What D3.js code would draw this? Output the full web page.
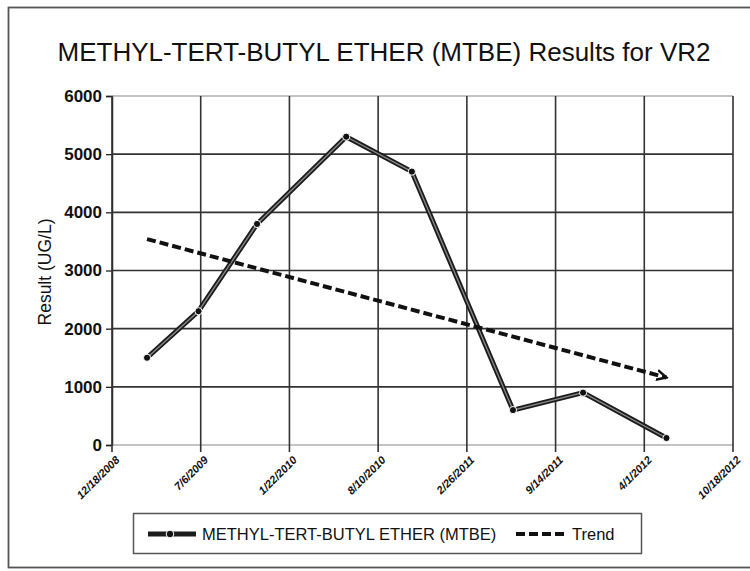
<!DOCTYPE html>
<html>
<head>
<meta charset="utf-8">
<script src="https://cdn.jsdelivr.net/npm/d3@7/dist/d3.min.js"></script>
<style>
  html, body { margin: 0; padding: 0; background: #fff; }
  svg { display: block; font-family: "Liberation Sans", Arial, sans-serif; }
</style>
</head>
<body>
<svg id="chart" width="750" height="571"></svg>
<script>
// Sampling dates and MTBE results (UG/L) for well VR2
const sampleDates = ["2009-03-07", "2009-07-01", "2009-11-10", "2010-05-30",
                     "2010-10-25", "2011-06-10", "2011-11-15", "2012-05-21"];
const mtbeValues = [1500, 2300, 3800, 5300, 4700, 600, 900, 120];

// Linear trend, first to last sample
const trendDates = ["2009-03-07", "2012-05-21"];
const trendValues = [3540, 1160];

// Axis ticks
const xTickLabels = ["12/18/2008", "7/6/2009", "1/22/2010", "8/10/2010",
                     "2/26/2011", "9/14/2011", "4/1/2012", "10/18/2012"];
const yTickValues = [0, 1000, 2000, 3000, 4000, 5000, 6000];

const parseIso = d3.utcParse("%Y-%m-%d");
const parseMdy = d3.utcParse("%m/%d/%Y");
const xTicks = xTickLabels.map(parseMdy);

const svg = d3.select("#chart");

// outer chart frame
svg.append("rect")
  .attr("x", 8.5).attr("y", 7.5).attr("width", 760).attr("height", 560)
  .attr("fill", "none").attr("stroke", "#555").attr("stroke-width", 1.8);

const plot = { left: 112, right: 733, top: 96, bottom: 445 };

const x = d3.scaleUtc()
  .domain([xTicks[0], xTicks[xTicks.length - 1]])
  .range([plot.left, plot.right]);
const y = d3.scaleLinear()
  .domain([0, 6000])
  .range([plot.bottom, plot.top]);

// title
svg.append("text")
  .attr("x", 384).attr("y", 61)
  .attr("text-anchor", "middle")
  .attr("font-size", 26)
  .attr("fill", "#111")
  .text("METHYL-TERT-BUTYL ETHER (MTBE) Results for VR2");

// horizontal gridlines + y axis
const yAxis = d3.axisLeft(y).tickValues(yTickValues).tickSize(6).tickPadding(4)
  .tickFormat(d3.format("d"));
const gy = svg.append("g").attr("transform", `translate(${plot.left},0)`).call(yAxis);
gy.select(".domain").attr("stroke", "#222").attr("stroke-width", 1.5);
gy.selectAll(".tick line").attr("stroke", "#222").attr("stroke-width", 1.3);
gy.selectAll(".tick text")
  .attr("font-size", 17).attr("font-weight", "bold").attr("fill", "#111")
  .attr("font-family", "'Liberation Sans', Arial, sans-serif");

svg.append("g").selectAll("line")
  .data(yTickValues)
  .join("line")
  .attr("x1", plot.left).attr("x2", plot.right)
  .attr("y1", d => y(d)).attr("y2", d => y(d))
  .attr("stroke", d => (d === 0 || d === 6000) ? "#888" : "#333")
  .attr("stroke-width", d => (d === 0 || d === 6000) ? 1.2 : 1.6);

// vertical gridlines with tick extension below the axis
const xAxis = d3.axisBottom(x).tickValues(xTicks).tickSize(0)
  .tickFormat((d, i) => xTickLabels[i]);
const gx = svg.append("g").attr("transform", `translate(0,${plot.bottom})`).call(xAxis);
gx.select(".domain").remove();
gx.selectAll(".tick text")
  .attr("font-size", 11).attr("font-style", "italic").attr("font-weight", "bold")
  .attr("fill", "#111")
  .attr("font-family", "'Liberation Sans', Arial, sans-serif")
  .attr("text-anchor", "end")
  .attr("transform", "translate(5,13) rotate(-45)")
  .attr("dy", "0.35em").attr("y", 0).attr("x", 0);

svg.append("g").selectAll("line")
  .data(xTicks)
  .join("line")
  .attr("x1", d => x(d)).attr("x2", d => x(d))
  .attr("y1", plot.top).attr("y2", plot.bottom + 7)
  .attr("stroke", "#333").attr("stroke-width", 1.6);

// y axis title
svg.append("text")
  .attr("transform", `translate(51,272) rotate(-90)`)
  .attr("text-anchor", "middle")
  .attr("font-size", 17.5).attr("fill", "#111")
  .text("Result (UG/L)");

// MTBE series
const series = sampleDates.map((d, i) => ({ date: parseIso(d), value: mtbeValues[i] }));
const line = d3.line().x(d => x(d.date)).y(d => y(d.value));

svg.append("path")
  .datum(series)
  .attr("d", line)
  .attr("fill", "none").attr("stroke", "#1c1c1c")
  .attr("stroke-width", 5).attr("stroke-linejoin", "round");
svg.append("path")
  .datum(series)
  .attr("d", line)
  .attr("fill", "none").attr("stroke", "#8a8a8a")
  .attr("stroke-width", 1.3).attr("stroke-linejoin", "round");

svg.append("g").selectAll("circle")
  .data(series)
  .join("circle")
  .attr("cx", d => x(d.date)).attr("cy", d => y(d.value))
  .attr("r", 3.6)
  .attr("fill", "#111").attr("stroke", "#fff").attr("stroke-width", 1);

// trend line with arrowhead at the end
const defs = svg.append("defs");
defs.append("marker")
  .attr("id", "trendHead")
  .attr("viewBox", "0 -6 12 12")
  .attr("refX", 10).attr("refY", 0)
  .attr("markerWidth", 12).attr("markerHeight", 12)
  .attr("markerUnits", "userSpaceOnUse")
  .attr("orient", "auto")
  .append("path")
  .attr("d", "M0,-5 L10,0 L0,5")
  .attr("fill", "none").attr("stroke", "#111").attr("stroke-width", 2.5);

const trend = trendDates.map((d, i) => ({ date: parseIso(d), value: trendValues[i] }));
svg.append("path")
  .datum(trend)
  .attr("d", line)
  .attr("fill", "none").attr("stroke", "#111")
  .attr("stroke-width", 4).attr("stroke-dasharray", "9,4")
  .attr("marker-end", "url(#trendHead)");

// legend
const lg = svg.append("g");
lg.append("rect")
  .attr("x", 133.5).attr("y", 513.5).attr("width", 508).attr("height", 40)
  .attr("fill", "#fff").attr("stroke", "#555").attr("stroke-width", 1.5);
lg.append("line")
  .attr("x1", 148).attr("x2", 196).attr("y1", 534).attr("y2", 534)
  .attr("stroke", "#1c1c1c").attr("stroke-width", 5);
lg.append("circle")
  .attr("cx", 170).attr("cy", 534).attr("r", 3.8)
  .attr("fill", "#111").attr("stroke", "#fff").attr("stroke-width", 1);
lg.append("text")
  .attr("x", 202).attr("y", 540)
  .attr("font-size", 16.5).attr("fill", "#111")
  .text("METHYL-TERT-BUTYL ETHER (MTBE)");
lg.append("line")
  .attr("x1", 516).attr("x2", 566).attr("y1", 534).attr("y2", 534)
  .attr("stroke", "#111").attr("stroke-width", 4).attr("stroke-dasharray", "9,4");
lg.append("text")
  .attr("x", 572).attr("y", 540)
  .attr("font-size", 16.5).attr("fill", "#111")
  .text("Trend");
</script>
</body>
</html>
